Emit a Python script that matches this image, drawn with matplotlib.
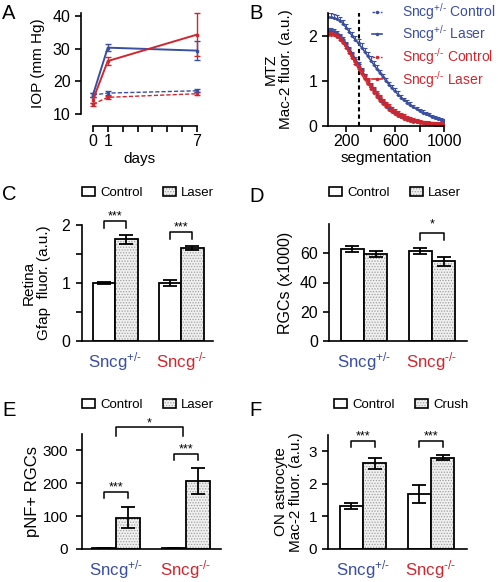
import matplotlib
matplotlib.use('Agg')
import matplotlib.pyplot as plt
from matplotlib.patches import Patch
from matplotlib.lines import Line2D
from matplotlib.legend_handler import HandlerTuple
import numpy as np

plt.rcParams['font.family'] = ['Liberation Sans', 'DejaVu Sans']
plt.rcParams['mathtext.fontset'] = 'custom'
plt.rcParams['mathtext.rm'] = 'Liberation Sans'
plt.rcParams['mathtext.default'] = 'regular'
plt.rcParams['hatch.linewidth'] = 0.6
plt.rcParams['axes.linewidth'] = 1.2
plt.rcParams['xtick.major.width'] = 1.2
plt.rcParams['ytick.major.width'] = 1.2
plt.rcParams['ytick.minor.width'] = 1.2
plt.rcParams['xtick.major.size'] = 4
plt.rcParams['ytick.major.size'] = 4
plt.rcParams['ytick.minor.size'] = 4

BLUE = '#3a4ea2'
RED = '#d0262e'

HET = 'Sncg$^{+/\u2010}$'
KO = 'Sncg$^{\u2010/\u2010}$'

# ---- A : IOP ----
days = [0, 1, 7]
iop_het_laser = [15.8, 30.3, 29.4]
iop_het_laser_err = [0.6, 1.0, 3.0]
iop_ko_laser = [14.3, 26.2, 34.3]
iop_ko_laser_err = [0.8, 1.3, 6.6]
iop_het_ctrl = [15.8, 16.4, 17.1]
iop_het_ctrl_err = [0.6, 0.6, 0.5]
iop_ko_ctrl = [13.0, 15.1, 16.2]
iop_ko_ctrl_err = [0.5, 0.5, 0.4]

# ---- B : Mac-2 along optic nerve ----
segmentation = [50, 75, 100, 125, 150, 175, 200, 225, 250, 275,
                300, 325, 350, 375, 400, 425, 450, 475, 500, 525,
                550, 575, 600, 625, 650, 675, 700, 725, 750, 775,
                800, 825, 850, 875, 900, 925, 950, 975, 1000]
mac2_het_laser = [2.42, 2.42, 2.41, 2.39, 2.35, 2.28, 2.19, 2.10, 2.00, 1.92,
                  1.84, 1.75, 1.66, 1.56, 1.46, 1.37, 1.27, 1.18, 1.09, 1.00,
                  0.92, 0.84, 0.77, 0.70, 0.63, 0.57, 0.52, 0.47, 0.42, 0.38,
                  0.34, 0.30, 0.27, 0.24, 0.21, 0.18, 0.16, 0.14, 0.12]
mac2_het_laser_err = [0.09, 0.09, 0.09, 0.09, 0.09, 0.09, 0.09, 0.09, 0.09, 0.09,
                      0.09, 0.09, 0.09, 0.09, 0.09, 0.08, 0.08, 0.08, 0.08, 0.08,
                      0.07, 0.07, 0.07, 0.07, 0.06, 0.06, 0.06, 0.06, 0.05, 0.05,
                      0.05, 0.05, 0.05, 0.04, 0.04, 0.04, 0.04, 0.04, 0.04]
mac2_het_ctrl = [2.14, 2.14, 2.12, 2.08, 2.02, 1.94, 1.84, 1.73, 1.62, 1.50,
                 1.38, 1.25, 1.13, 1.01, 0.90, 0.80, 0.70, 0.61, 0.53, 0.46,
                 0.40, 0.34, 0.29, 0.25, 0.21, 0.18, 0.15, 0.13, 0.11, 0.09,
                 0.08, 0.07, 0.06, 0.05, 0.045, 0.04, 0.035, 0.03, 0.03]
mac2_ko_ctrl = [2.04, 2.04, 2.02, 1.98, 1.92, 1.84, 1.74, 1.63, 1.51, 1.39,
                1.27, 1.15, 1.04, 0.93, 0.83, 0.73, 0.64, 0.56, 0.49, 0.42,
                0.36, 0.31, 0.26, 0.22, 0.19, 0.16, 0.13, 0.11, 0.09, 0.08,
                0.07, 0.06, 0.05, 0.04, 0.035, 0.03, 0.025, 0.02, 0.02]
mac2_ko_laser = [2.08, 2.08, 2.06, 2.02, 1.96, 1.88, 1.78, 1.67, 1.56, 1.45,
                 1.34, 1.23, 1.12, 1.02, 0.92, 0.83, 0.74, 0.66, 0.58, 0.51,
                 0.45, 0.39, 0.34, 0.30, 0.26, 0.23, 0.20, 0.17, 0.15, 0.13,
                 0.12, 0.10, 0.09, 0.08, 0.075, 0.07, 0.065, 0.06, 0.06]
mac2_small_err = [0.04, 0.04, 0.04, 0.04, 0.04, 0.04, 0.04, 0.04, 0.04, 0.04,
                  0.04, 0.04, 0.04, 0.04, 0.04, 0.04, 0.04, 0.03, 0.03, 0.03,
                  0.03, 0.03, 0.03, 0.03, 0.03, 0.03, 0.02, 0.02, 0.02, 0.02,
                  0.02, 0.02, 0.02, 0.02, 0.02, 0.02, 0.02, 0.02, 0.02]
cut_point = 300

# ---- C-F : bar panels (het, ko) ----
gfap_ctrl = [1.00, 1.00]
gfap_ctrl_err = [0.02, 0.05]
gfap_laser = [1.75, 1.60]
gfap_laser_err = [0.07, 0.03]

rgc_ctrl = [63.0, 61.5]
rgc_ctrl_err = [2.0, 2.0]
rgc_laser = [59.5, 54.5]
rgc_laser_err = [2.0, 3.0]

pnf_ctrl = [2, 2]
pnf_ctrl_err = [0, 0]
pnf_laser = [95, 207]
pnf_laser_err = [32, 40]

on_ctrl = [1.32, 1.70]
on_ctrl_err = [0.08, 0.28]
on_crush = [2.63, 2.80]
on_crush_err = [0.17, 0.08]

W, H = 498, 582
fig = plt.figure(figsize=(W / 100, H / 100), dpi=100)


def axes_px(left, top, right, bottom):
    return fig.add_axes([left / W, 1 - bottom / H, (right - left) / W, (bottom - top) / H])


def clean(ax, ypad=3.6, size=11.5):
    ax.spines['top'].set_visible(False)
    ax.spines['right'].set_visible(False)
    ax.tick_params(labelsize=size, pad=2)
    ax.tick_params(axis='y', pad=ypad)


def bracket(ax, x0, x1, y, h, text, off=1.0):
    ax.plot([x0, x0, x1, x1], [y - h, y, y, y - h], color='k', lw=1.1, clip_on=False)
    ax.annotate(text, ((x0 + x1) / 2, y), xytext=(0, off), textcoords='offset points',
                ha='center', va='baseline', fontsize=9, annotation_clip=False)


def bar_panel(ax, ctrl, ctrl_err, trt, trt_err):
    x = np.arange(2)
    w = 0.34
    ax.bar(x - w / 2, ctrl, w, color='white', edgecolor='k', lw=1.3, zorder=2)
    ax.bar(x + w / 2, trt, w, color='#f0f0f0', edgecolor='#a0a0a0', hatch='......', lw=0, zorder=2)
    ax.bar(x + w / 2, trt, w, fill=False, edgecolor='k', lw=1.3, zorder=3)
    ax.errorbar(x - w / 2, ctrl, yerr=ctrl_err, fmt='none', ecolor='k', elinewidth=1.3, capsize=5, capthick=1.3, zorder=4)
    ax.errorbar(x + w / 2, trt, yerr=trt_err, fmt='none', ecolor='k', elinewidth=1.3, capsize=5, capthick=1.3, zorder=4)
    return x


def group_labels(ax, x):
    ax.set_xticks(x)
    ax.set_xticklabels([HET, KO], fontsize=12.2)
    for lab, c in zip(ax.get_xticklabels(), [BLUE, RED]):
        lab.set_color(c)
    ax.tick_params(axis='x', length=0, pad=6.5)


def bar_legend(ax, trt_name, xl, yc):
    h_ctrl = Patch(facecolor='white', edgecolor='k', lw=1.2)
    h_trt = (Patch(facecolor='#f0f0f0', edgecolor='#a0a0a0', hatch='......', lw=0),
             Patch(fill=False, edgecolor='k', lw=1.2))
    ax.legend([h_ctrl, h_trt], ['Control', trt_name], ncol=2, loc='center left',
              bbox_to_anchor=(xl, yc), frameon=False,
              fontsize=9.5, handlelength=1.0, handleheight=0.6, handletextpad=0.4,
              columnspacing=1.5, borderpad=0, borderaxespad=0,
              handler_map={tuple: HandlerTuple(ndivide=1, pad=0)})


# ---------- A ----------
axA = axes_px(81, 12.7, 197, 114)
eb = dict(capsize=2, elinewidth=1.0, capthick=1.0, markersize=2, marker='s')
axA.errorbar(days, iop_het_ctrl, yerr=iop_het_ctrl_err, color=BLUE, lw=1.0, ls=(0, (3, 1.5)), clip_on=False, **eb)
axA.errorbar(days, iop_ko_ctrl, yerr=iop_ko_ctrl_err, color=RED, lw=1.0, ls=(0, (3, 1.5)), clip_on=False, **eb)
axA.errorbar(days, iop_het_laser, yerr=iop_het_laser_err, color=BLUE, lw=1.4, clip_on=False, **eb)
axA.errorbar(days, iop_ko_laser, yerr=iop_ko_laser_err, color=RED, lw=1.4, clip_on=False, **eb)
axA.set_xlim(-0.8, 7)
axA.set_ylim(10, 41)
axA.set_yticks([10, 20, 30, 40])
axA.set_xticks(range(8))
axA.set_xticklabels(['0', '1', '', '', '', '', '', '7'])
clean(axA)
axA.spines['bottom'].set_position(('outward', 8.6))
axA.spines['bottom'].set_bounds(0, 7)
axA.set_xlabel('days', fontsize=11, labelpad=2)
axA.set_ylabel('IOP (mm Hg)', fontsize=11)
axA.yaxis.set_label_coords(-0.31, 0.5)

# ---------- B ----------
axB = axes_px(328, 13, 444, 126)
up_big = [np.zeros(len(mac2_het_laser_err)), mac2_het_laser_err]
up_small = [np.zeros(len(mac2_small_err)), mac2_small_err]
ebB = dict(capsize=1.5, elinewidth=0.8, capthick=0.8, marker='.', markersize=2.5)
axB.errorbar(segmentation, mac2_het_ctrl, yerr=up_small, color=BLUE, lw=1.0, ls=(0, (3, 1.5)), **ebB)
axB.errorbar(segmentation, mac2_ko_ctrl, yerr=up_small, color=RED, lw=1.0, ls=(0, (3, 1.5)), **ebB)
axB.errorbar(segmentation, mac2_ko_laser, yerr=up_small, color=RED, lw=1.2, **ebB)
axB.errorbar(segmentation, mac2_het_laser, yerr=up_big, color=BLUE, lw=1.2, **ebB)
axB.axvline(cut_point, color='k', lw=1.5, ls=(0, (2, 1.5)))
axB.set_xlim(50, 1000)
axB.set_ylim(0, 2.52)
axB.set_yticks([0, 1, 2])
axB.set_xticks([200, 400, 600, 800, 1000])
axB.set_xticklabels(['200', '', '600', '', '1000'])
clean(axB)
axB.set_xlabel('segmentation', fontsize=11, labelpad=1)
axB.set_ylabel('MTZ\nMac-2 fluor. (a.u.)', fontsize=11, linespacing=1.1)
axB.yaxis.set_label_coords(-0.30, 0.5)

hB = [Line2D([], [], color=BLUE, lw=1.0, ls=(0, (2, 1)), marker='.', markersize=3),
      Line2D([], [], color=BLUE, lw=1.2, marker='.', markersize=3),
      Line2D([], [], color=RED, lw=1.0, ls=(0, (2, 1)), marker='.', markersize=3),
      Line2D([], [], color=RED, lw=1.2, marker='.', markersize=3)]
lB = [HET + ' Control', HET + ' Laser', KO + ' Control', KO + ' Laser']
fig.legend(hB, lB, loc='upper left', bbox_to_anchor=(372 / W, 1 - 1 / H), frameon=False,
           fontsize=10, handlelength=0.75, handletextpad=1.4, labelspacing=0.12,
           borderpad=0, borderaxespad=0, labelcolor='linecolor')

# ---------- C ----------
axC = axes_px(82, 225, 213, 341)
x = bar_panel(axC, gfap_ctrl, gfap_ctrl_err, gfap_laser, gfap_laser_err)
clean(axC, ypad=4.5)
group_labels(axC, x)
axC.set_xlim(-0.5, 1.48)
axC.set_ylim(0, 2)
axC.set_yticks([0, 1, 2])
axC.set_yticks([0.5, 1.5], minor=True)
axC.set_ylabel('Retina\nGfap  fluor. (a.u.)', fontsize=11, linespacing=1.1)
axC.yaxis.set_label_coords(-0.235, 0.5)
bracket(axC, -0.17, 0.17, 2.07, 0.12, '***')
bracket(axC, 0.83, 1.17, 1.88, 0.12, '***')
bar_legend(axC, 'Laser', 0.0, 1.276)

# ---------- D ----------
axD = axes_px(329, 224, 467, 341)
x = bar_panel(axD, rgc_ctrl, rgc_ctrl_err, rgc_laser, rgc_laser_err)
clean(axD, ypad=4.0)
group_labels(axD, x)
axD.set_xlim(-0.515, 1.515)
axD.set_ylim(0, 80)
axD.set_yticks([0, 20, 40, 60])
axD.set_ylabel('RGCs (x1000)', fontsize=11.5)
axD.yaxis.set_label_coords(-0.26, 0.5)
bracket(axD, 0.83, 1.17, 74, 5, '*', off=4)
bar_legend(axD, 'Laser', 0.0, 1.265)

# ---------- E ----------
axE = axes_px(82, 434, 221, 549)
x = bar_panel(axE, pnf_ctrl, pnf_ctrl_err, pnf_laser, pnf_laser_err)
clean(axE, ypad=6, size=11)
group_labels(axE, x)
axE.set_xlim(-0.486, 1.5)
axE.set_ylim(0, 350)
axE.set_yticks([0, 100, 200, 300])
axE.set_ylabel('pNF+ RGCs', fontsize=12)
axE.yaxis.set_label_coords(-0.30, 0.5)
bracket(axE, -0.17, 0.17, 175, 20, '***')
bracket(axE, 0.83, 1.17, 290, 20, '***')
bracket(axE, 0.0, 0.96, 370, 25, '*')
bar_legend(axE, 'Laser', 0.0, 1.252)

# ---------- F ----------
axF = axes_px(328, 435, 467, 549)
x = bar_panel(axF, on_ctrl, on_ctrl_err, on_crush, on_crush_err)
clean(axF, ypad=4.0, size=11)
group_labels(axF, x)
axF.set_xlim(-0.515, 1.53)
axF.set_ylim(0, 3.5)
axF.set_yticks([0, 1, 2, 3])
axF.set_ylabel('ON astrocyte\nMac-2 fluor. (a.u.)', fontsize=11, linespacing=1.1)
axF.yaxis.set_label_coords(-0.18, 0.5)
bracket(axF, -0.17, 0.17, 3.33, 0.21, '***')
bracket(axF, 0.83, 1.17, 3.33, 0.21, '***')
bar_legend(axF, 'Crush', 0.043, 1.263)

# panel letters
for letter, (px, py) in zip('ABCDEF', [(2, 4), (249, 4), (2, 185), (249, 187), (2, 401), (249, 401)]):
    fig.text(px / W, 1 - py / H, letter, fontsize=14.5, ha='left', va='top')

fig.savefig('out.png', dpi=100)
